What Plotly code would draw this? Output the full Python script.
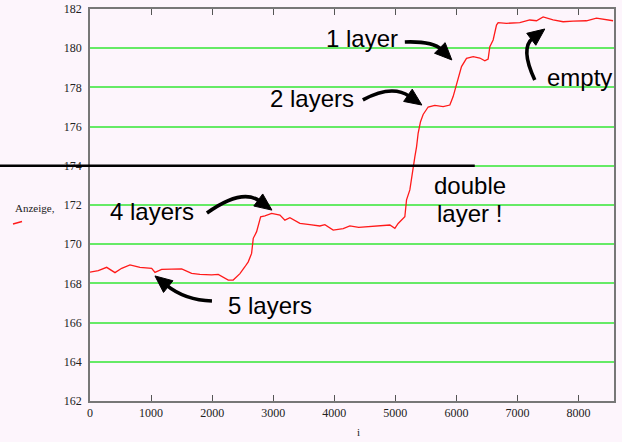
import math
import plotly.graph_objects as go

# Reading "Anzeige" over sample index i while the layers empty out
i_vals = [0, 136, 273, 409, 519, 655, 818, 1010, 1064, 1173, 1501, 1664, 1800,
          1992, 2100, 2264, 2345, 2455, 2537, 2591, 2646, 2673, 2728, 2794,
          2864, 2974, 3110, 3191, 3273, 3437, 3600, 3764, 3846, 3982, 4146,
          4255, 4400, 4583, 4746, 4910, 4992, 5046, 5155, 5183, 5237, 5265,
          5319, 5347, 5373, 5412, 5455, 5537, 5646, 5782, 5892, 5946, 5974,
          6028, 6083, 6165, 6274, 6383, 6465, 6519, 6547, 6601, 6656, 6683,
          6820, 7038, 7201, 7311, 7419, 7583, 7747, 7910, 8129, 8293, 8456,
          8565]
anzeige = [168.57, 168.65, 168.82, 168.55, 168.77, 168.94, 168.82, 168.77,
           168.56, 168.72, 168.74, 168.51, 168.46, 168.43, 168.46, 168.17,
           168.17, 168.50, 168.85, 169.10, 169.53, 170.30, 170.64, 171.40,
           171.45, 171.57, 171.49, 171.23, 171.35, 171.06, 171.00, 170.93,
           171.00, 170.72, 170.80, 170.93, 170.86, 170.89, 170.94, 170.98,
           170.81, 171.06, 171.40, 172.26, 172.77, 173.44, 174.46, 174.97,
           175.66, 176.25, 176.62, 177.00, 177.08, 177.02, 177.10, 177.53,
           177.87, 178.38, 179.06, 179.48, 179.57, 179.50, 179.36, 179.45,
           180.08, 180.42, 181.18, 181.30, 181.27, 181.30, 181.44, 181.40,
           181.60, 181.44, 181.35, 181.38, 181.40, 181.53, 181.47, 181.40]

X_RANGE = [0, 8580]
Y_RANGE = [162, 182]
X_TICKS = [0, 1000, 2000, 3000, 4000, 5000, 6000, 7000, 8000]
Y_TICKS = [162, 164, 166, 168, 170, 172, 174, 176, 178, 180, 182]

# Reference level and where its marker line stops
REF_LEVEL = 174
REF_END = 6300

# Stage labels: text and its centre (i, Anzeige)
stage_texts = ["1 layer", "2 layers", "empty", "double", "layer !",
               "4 layers", "5 layers"]
stage_x = [4452, 3633, 8020, 6219, 6219, 1015, 2946]
stage_y = [180.52, 177.41, 178.48, 172.97, 171.59, 171.69, 166.85]

# Curved pointers: tail, bend control and tip (i, Anzeige)
arrow_tail = [(5155, 180.32), (4468, 177.36), (7283, 178.38),
              (1915, 171.59), (1997, 167.10)]
arrow_ctrl = [(5614, 180.37), (4943, 178.17), (7038, 180.01),
              (2488, 172.87), (1555, 167.15)]
arrow_tip = [(5925, 179.40), (5434, 177.10), (7447, 180.98),
             (2979, 171.74), (1064, 168.38)]

W, H = 622, 442
MARGIN = dict(l=90, r=8, t=9, b=41)
PW = W - MARGIN["l"] - MARGIN["r"]
PH = H - MARGIN["t"] - MARGIN["b"]
SX = PW / (X_RANGE[1] - X_RANGE[0])
SY = PH / (Y_RANGE[1] - Y_RANGE[0])

BG = "#fdf5fc"
GRID = "#66ea66"
TEXT_FONT = dict(family="Liberation Sans, Arial, sans-serif", size=24,
                 color="#000000")
TICK_FONT = dict(family="Liberation Serif, Times New Roman, serif", size=12,
                 color="#222222")


def px_of(x, y):
    return MARGIN["l"] + (x - X_RANGE[0]) * SX, MARGIN["t"] + (Y_RANGE[1] - y) * SY


def data_of(px, py):
    return X_RANGE[0] + (px - MARGIN["l"]) / SX, Y_RANGE[1] - (py - MARGIN["t"]) / SY


def curved_arrow(tail, ctrl, tip, head_len=17, head_half=7.5, width=3.6):
    """Quadratic-bezier shaft plus filled triangular head, in data units."""
    tx, ty = px_of(*tip)
    cx, cy = px_of(*ctrl)
    ux, uy = tx - cx, ty - cy
    n = math.hypot(ux, uy)
    ux, uy = ux / n, uy / n
    bx, by = tx - head_len * ux, ty - head_len * uy
    c1 = data_of(bx - head_half * uy, by + head_half * ux)
    c2 = data_of(bx + head_half * uy, by - head_half * ux)
    base = data_of(bx + 2 * ux, by + 2 * uy)
    shaft = dict(type="path", xref="x", yref="y", layer="above",
                 path=f"M {tail[0]},{tail[1]} Q {ctrl[0]},{ctrl[1]} {base[0]},{base[1]}",
                 line=dict(color="black", width=width))
    head = dict(type="path", xref="x", yref="y", layer="above",
                path=f"M {tip[0]},{tip[1]} L {c1[0]},{c1[1]} L {c2[0]},{c2[1]} Z",
                fillcolor="black", line=dict(color="black", width=1))
    return [shaft, head]


fig = go.Figure()
fig.add_trace(go.Scatter(x=i_vals, y=anzeige, mode="lines",
                         line=dict(color="#ff1a1a", width=1.3),
                         showlegend=False, hoverinfo="skip"))

shapes = []
for t, c, p in zip(arrow_tail, arrow_ctrl, arrow_tip):
    shapes += curved_arrow(t, c, p)

# Reference level line, running out past the y axis
shapes.append(dict(type="line", xref="paper", yref="paper", layer="above",
                   x0=-MARGIN["l"] / PW, x1=(REF_END - X_RANGE[0]) / (X_RANGE[1] - X_RANGE[0]),
                   y0=(REF_LEVEL - Y_RANGE[0]) / (Y_RANGE[1] - Y_RANGE[0]),
                   y1=(REF_LEVEL - Y_RANGE[0]) / (Y_RANGE[1] - Y_RANGE[0]),
                   line=dict(color="black", width=2.6)))

# Small trace key under the y-axis name
shapes.append(dict(type="line", xref="paper", yref="paper", layer="above",
                   x0=(13 - MARGIN["l"]) / PW, x1=(22 - MARGIN["l"]) / PW,
                   y0=(H - MARGIN["b"] - 224) / PH, y1=(H - MARGIN["b"] - 221.5) / PH,
                   line=dict(color="#ff1a1a", width=1.3)))

annotations = []
for txt, x, y in zip(stage_texts, stage_x, stage_y):
    annotations.append(dict(text=txt, x=x, y=y, xref="x", yref="y",
                            showarrow=False, font=TEXT_FONT,
                            xanchor="center", yanchor="middle"))

annotations.append(dict(text="Anzeige,", xref="paper", yref="paper",
                        x=(35 - MARGIN["l"]) / PW, y=(H - MARGIN["b"] - 208) / PH,
                        showarrow=False, xanchor="center", yanchor="middle",
                        font=dict(family="Liberation Serif, serif", size=11,
                                  color="#222222")))
annotations.append(dict(text="i", xref="paper", yref="paper",
                        x=(358 - MARGIN["l"]) / PW, y=(H - MARGIN["b"] - 432) / PH,
                        showarrow=False, xanchor="center", yanchor="middle",
                        font=dict(family="Liberation Serif, serif", size=11,
                                  color="#222222")))

fig.update_layout(
    width=W, height=H, margin=dict(MARGIN, autoexpand=False),
    paper_bgcolor=BG, plot_bgcolor=BG,
    shapes=shapes, annotations=annotations,
    showlegend=False,
)
fig.update_xaxes(range=X_RANGE, tickvals=X_TICKS, ticks="inside", ticklen=6,
                 tickwidth=1.3, tickcolor="#555555", showgrid=False,
                 zeroline=False, showline=True, linecolor="#777777",
                 linewidth=1.6, mirror="ticks", tickfont=TICK_FONT,
                 automargin=False)
fig.update_yaxes(range=Y_RANGE, tickvals=Y_TICKS, ticks="", showgrid=True,
                 gridcolor=GRID, gridwidth=2, zeroline=False, showline=True,
                 linecolor="#777777", linewidth=1.6, mirror=True,
                 tickfont=TICK_FONT, ticklabelstandoff=4, automargin=False)

fig.write_html("out.html")
